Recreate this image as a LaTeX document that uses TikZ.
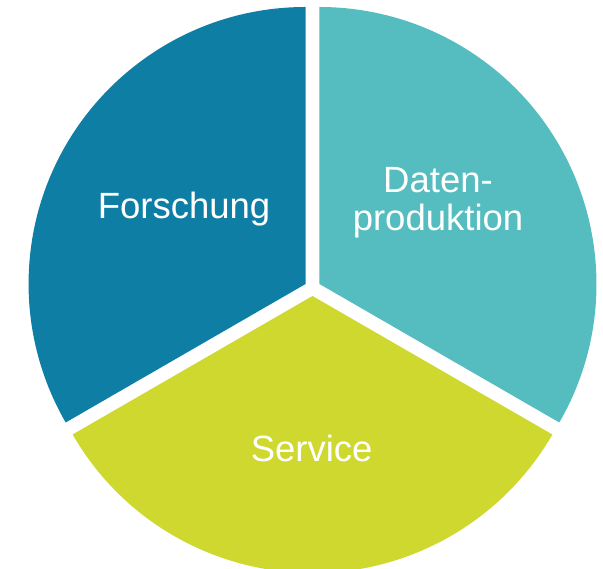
\documentclass[tikz,border=0pt]{standalone}
\usepackage{fontspec}
\setmainfont{Liberation Sans}
\definecolor{cforsch}{RGB}{15,126,165}
\definecolor{cdaten}{RGB}{85,189,192}
\definecolor{cserv}{RGB}{207,216,46}
\begin{document}
\begin{tikzpicture}[x=1pt,y=1pt,
  lbl/.style={text=white,inner sep=0pt,anchor=base,font=\fontsize{36.5}{38}\selectfont}]
\useasboundingbox (0,0) rectangle (603,569);
\clip (0,0) rectangle (603,569);
\coordinate (cf) at (305.57,285);
\coordinate (cd) at (319.43,285);
\coordinate (cs) at (312.5,273);
\fill[cforsch] (cf) -- ++(90:277) arc[start angle=90,end angle=210,radius=277] -- cycle;
\fill[cdaten] (cd) -- ++(-30:277) arc[start angle=-30,end angle=90,radius=277] -- cycle;
\fill[cserv] (cs) -- ++(210:277) arc[start angle=210,end angle=330,radius=277] -- cycle;
\node[lbl] (forsch) at (184,350) {Forschung};
\node[lbl,align=center] (daten) at (438,338.3) {Daten-\\produktion};
\node[lbl] (serv) at (311.7,107.3) {Service};
\end{tikzpicture}
\end{document}
